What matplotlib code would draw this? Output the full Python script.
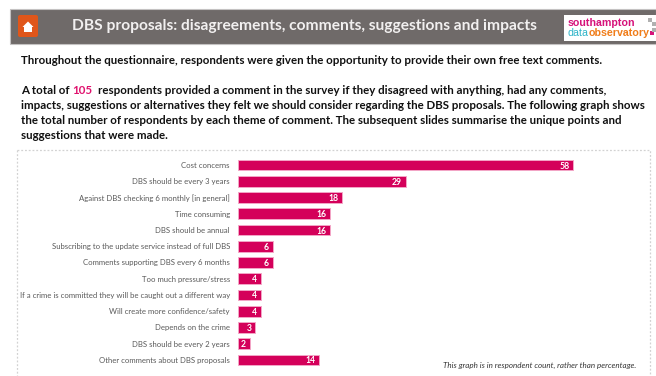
import matplotlib
matplotlib.use('agg')
import matplotlib.pyplot as plt
from matplotlib.patches import Rectangle, FancyBboxPatch, Polygon

plt.rcParams['font.family'] = ['Lato', 'DejaVu Sans']

categories = ['Cost concerns', 'DBS should be every 3 years', 'Against DBS checking 6 monthly [in general]',
              'Time consuming', 'DBS should be annual', 'Subscribing to the update service instead of full DBS',
              'Comments supporting DBS every 6 months', 'Too much pressure/stress',
              'If a crime is committed they will be caught out a different way',
              'Will create more confidence/safety', 'Depends on the crime', 'DBS should be every 2 years',
              'Other comments about DBS proposals']
counts = [58, 29, 18, 16, 16, 6, 6, 4, 4, 4, 3, 2, 14]

W, H = 656, 376
PINK = '#d4005a'
fig = plt.figure(figsize=(W / 100, H / 100), dpi=100)

# page layer in pixel coordinates
bg = fig.add_axes([0, 0, 1, 1])
bg.set_xlim(0, W)
bg.set_ylim(H, 0)
bg.axis('off')

# header band
bg.add_patch(Rectangle((10, 9), 646, 35, fc='#6f6a69', ec='#c4c2c2', lw=0.8))
bg.add_patch(FancyBboxPatch((18, 15), 20, 22, boxstyle='round,pad=0,rounding_size=2', fc='#e0561a', ec='none'))
bg.add_patch(Polygon([(28, 21.5), (33.5, 27), (32, 27), (32, 32), (24, 32), (24, 27), (22.5, 27)], fc='white', ec='none'))
bg.text(72.5, 26, 'DBS proposals: disagreements, comments, suggestions and impacts', color='#f2f0f0',
        fontsize=11.15, fontweight='bold', va='center')

# logo
bg.add_patch(Rectangle((564, 15), 92, 26, fc='white', ec='none'))
bg.text(568, 23, 'southampton', color='#d6127a', fontsize=7.7, fontweight='bold', family='Liberation Sans', va='center')
bg.text(568, 33, 'data', color='#2fb4c8', fontsize=7.7, family='Liberation Sans', va='center')
bg.text(589, 33, 'observatory', color='#f07d1a', fontsize=7.7, fontweight='bold', family='Liberation Sans', va='center')
bg.scatter([650, 654, 652, 654], [20, 24, 33, 30], s=5, c=['#b0b0b0', '#b0b0b0', '#d6127a', '#b0b0b0'], marker='s', lw=0)


def body(x, y, s, color='#111111'):
    return bg.text(x, y, s, color=color, fontsize=8.25, fontweight='bold', va='center')


body(21, 60.5, 'Throughout the questionnaire, respondents were given the opportunity to provide their own free text comments.')
body(21, 90.5, 'A total of')
body(72, 90.5, '105', color='#e0126e')
body(98, 90.5, 'respondents provided a comment in the survey if they disagreed with anything, had any comments,')
body(21, 105.5, 'impacts, suggestions or alternatives they felt we should consider regarding the DBS proposals. The following graph shows')
body(21, 120.5, 'the total number of respondents by each theme of comment. The subsequent slides summarise the unique points and')
body(21, 135.5, 'suggestions that were made.')

# dotted frame round the chart
bg.plot([17, 650, 650], [149.5, 149.5, 376], color='#d2d2d2', lw=0.9, ls=(0, (1.5, 1.5)))
bg.plot([17, 17], [149.5, 376], color='#d2d2d2', lw=0.9, ls=(0, (1.5, 1.5)))

# bar chart, 238px is the zero line and one respondent is about 5.78px
ax = fig.add_axes([238 / W, 1 - 368.1 / H, (645 - 238) / W, (368.1 - 156.9) / H])
ax.patch.set_alpha(0)
ax.barh(range(len(counts)), counts, height=0.66, color=PINK, edgecolor='#f3a6c6', linewidth=0.7)
ax.set_xlim(0, (645 - 238) / 5.776)
ax.set_ylim(len(counts) - 0.5, -0.5)
ax.set_yticks(range(len(counts)))
ax.set_yticklabels(categories, fontsize=5.55, color='#595959')
ax.set_xticks([])
ax.tick_params(axis='y', length=0, pad=5.8)
for s in ax.spines.values():
    s.set_visible(False)
for i, v in enumerate(counts):
    ax.text(v - 0.65, i, str(v), color='white', fontsize=6.2, fontweight='bold', ha='right', va='center_baseline')

bg.text(636.5, 365.5, 'This graph is in respondent count, rather than percentage.', color='#333333',
        fontsize=5.8, style='italic', ha='right', va='center')

fig.savefig('out.png', dpi=100)
